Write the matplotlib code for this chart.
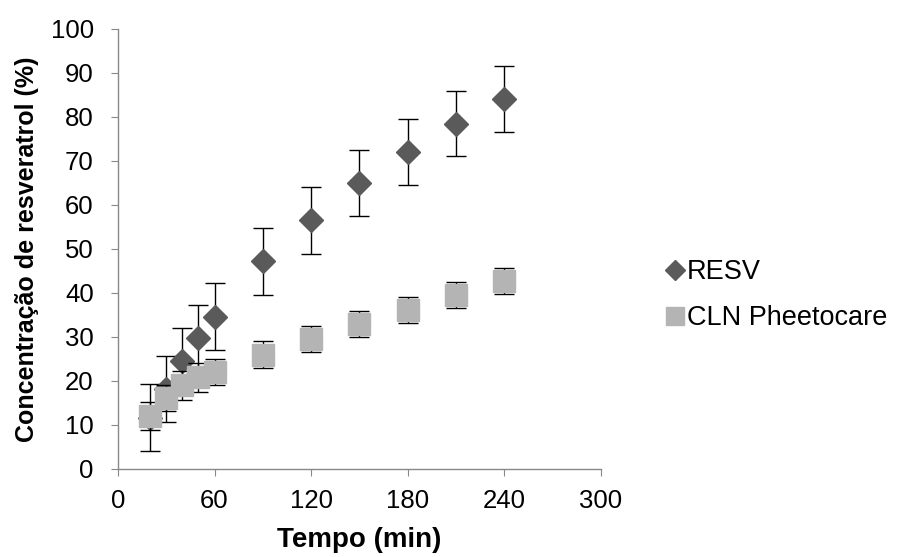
import matplotlib
matplotlib.use("Agg")
import matplotlib.pyplot as plt
from matplotlib.lines import Line2D

plt.rcParams['font.family'] = ['Liberation Sans', 'DejaVu Sans']

tempo = [20, 30, 40, 50, 60, 90, 120, 150, 180, 210, 240]
resv = [11.7, 18.2, 24.5, 29.8, 34.6, 47.2, 56.5, 65.0, 72.0, 78.5, 84.0]
resv_err = [7.6, 7.5, 7.5, 7.5, 7.6, 7.6, 7.6, 7.5, 7.5, 7.3, 7.5]
cln = [12.0, 16.2, 19.0, 20.8, 22.0, 26.0, 29.5, 33.0, 36.2, 39.5, 42.7]
cln_err = [3.2, 3.0, 3.3, 3.4, 3.0, 3.0, 3.0, 3.0, 3.0, 3.0, 3.0]

xticks = [0, 60, 120, 180, 240, 300]
yticks = list(range(0, 101, 10))

fig = plt.figure(figsize=(8.98, 5.57), dpi=100)
ax = fig.add_axes([0.1314, 0.158, 0.5376, 0.79])

ax.errorbar(tempo, resv, yerr=resv_err, fmt='D', color='#5a5a5a', markersize=12,
            ecolor='black', elinewidth=1, capsize=7, capthick=1, label='RESV', zorder=3)
ax.errorbar(tempo, cln, yerr=cln_err, fmt='s', color='#b4b4b4', markersize=16,
            ecolor='black', elinewidth=1, capsize=7, capthick=1, label='CLN Pheetocare', zorder=4)

ax.set_xlim(0, 300)
ax.set_ylim(0, 100)
ax.set_xticks(xticks)
ax.set_yticks(yticks)
for s in ['top', 'right']:
    ax.spines[s].set_visible(False)
for s in ['left', 'bottom']:
    ax.spines[s].set_color('#888888')
    ax.spines[s].set_linewidth(1)
ax.tick_params(axis='both', direction='out', length=5, color='#888888', labelsize=18.5)
ax.tick_params(axis='x', pad=9.5)
ax.tick_params(axis='y', pad=12.5)
ax.set_xlabel('Tempo (min)', fontsize=20, fontweight='bold', labelpad=10)
ax.set_ylabel('Concentração de resveratrol (%)', fontsize=18, fontweight='bold', labelpad=8)

handles = [Line2D([], [], marker='D', color='#5a5a5a', linestyle='none', markersize=10),
           Line2D([], [], marker='s', color='#b4b4b4', linestyle='none', markersize=13)]
fig.legend(handles, ['RESV', 'CLN Pheetocare'], loc='center left',
           bbox_to_anchor=(0.723, 0.47), frameon=False, fontsize=19.5,
           handletextpad=0.0, labelspacing=0.75, handlelength=0.9, borderpad=0)

fig.savefig('out.png', dpi=100)
